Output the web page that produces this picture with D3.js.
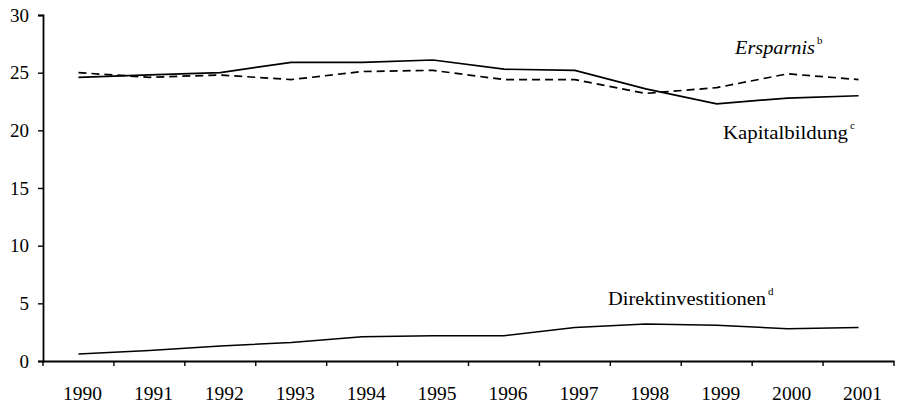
<!DOCTYPE html>
<html>
<head>
<meta charset="utf-8">
<script src="https://cdn.jsdelivr.net/npm/d3@7"></script>
<style>
  html, body { margin: 0; padding: 0; background: #fff; }
  svg { display: block; font-family: "Liberation Serif", "DejaVu Serif", serif; }
</style>
</head>
<body>
<svg id="chart" width="900" height="405"></svg>
<script>
const years = ["1990","1991","1992","1993","1994","1995","1996","1997","1998","1999","2000","2001"];
const kapitalbildung = [24.6, 24.8, 25.0, 25.9, 25.9, 26.1, 25.3, 25.2, 23.6, 22.3, 22.8, 23.0];
const ersparnis = [25.0, 24.6, 24.8, 24.4, 25.1, 25.2, 24.4, 24.4, 23.2, 23.7, 24.9, 24.4];
const direktinvestitionen = [0.6, 0.9, 1.3, 1.6, 2.1, 2.2, 2.2, 2.9, 3.2, 3.1, 2.8, 2.9];
const yTicks = [0, 5, 10, 15, 20, 25, 30];

const svg = d3.select("#chart");
const x = d3.scaleBand().domain(years).range([43, 894]).padding(0);
const y = d3.scaleLinear().domain([0, 30]).range([361, 15]);
const cx = d => x(d) + x.bandwidth() / 2;

// Y axis
const yAxis = d3.axisLeft(y).tickValues(yTicks).tickSize(5).tickPadding(9);
const gy = svg.append("g").attr("transform", "translate(43,0)").call(yAxis);
gy.select(".domain").attr("stroke", "#000").attr("stroke-width", 1.8);
gy.selectAll(".tick line").attr("stroke", "#000").attr("stroke-width", 1.4);
gy.selectAll(".tick text").attr("font-size", 19).attr("fill", "#000")
  .attr("font-family", "Liberation Serif");

// X axis (labels)
const xAxis = d3.axisBottom(x).tickSize(0).tickPadding(26);
const gx = svg.append("g").attr("transform", "translate(0,361)").call(xAxis);
gx.select(".domain").attr("stroke", "#000").attr("stroke-width", 1.8);
gx.selectAll(".tick text").attr("font-size", 19).attr("fill", "#000")
  .attr("font-family", "Liberation Serif").attr("dx", 4)
  .attr("textLength", 39).attr("lengthAdjust", "spacingAndGlyphs");

// X boundary ticks
const boundaries = years.map(d => x(d)).concat([x.range()[1]]);
svg.append("g").selectAll("line").data(boundaries).join("line")
  .attr("x1", d => d).attr("x2", d => d)
  .attr("y1", 361).attr("y2", 366)
  .attr("stroke", "#000").attr("stroke-width", 1.4);

// Lines
const mkLine = vals => d3.line().x((d, i) => cx(years[i])).y(d => y(d))(vals);
svg.append("path").attr("d", mkLine(kapitalbildung))
  .attr("fill", "none").attr("stroke", "#000").attr("stroke-width", 1.7);
svg.append("path").attr("d", mkLine(ersparnis))
  .attr("fill", "none").attr("stroke", "#000").attr("stroke-width", 1.7)
  .attr("stroke-dasharray", "8,5");
svg.append("path").attr("d", mkLine(direktinvestitionen))
  .attr("fill", "none").attr("stroke", "#000").attr("stroke-width", 1.5);

// Labels
function label(xp, yp, txt, len, sup, italic) {
  const t = svg.append("text").attr("x", xp).attr("y", yp)
    .attr("font-size", 19).attr("fill", "#000");
  t.append("tspan").attr("font-style", italic ? "italic" : "normal")
    .attr("textLength", len).attr("lengthAdjust", "spacingAndGlyphs").text(txt);
  t.append("tspan").attr("font-size", 11).attr("font-style", "normal")
    .attr("dx", 2).attr("dy", -10).text(sup);
}
label(735, 54, "Ersparnis", 80, "b", true);
label(723, 139, "Kapitalbildung", 125, "c", false);
label(608, 305, "Direktinvestitionen", 158, "d", false);
</script>
</body>
</html>
